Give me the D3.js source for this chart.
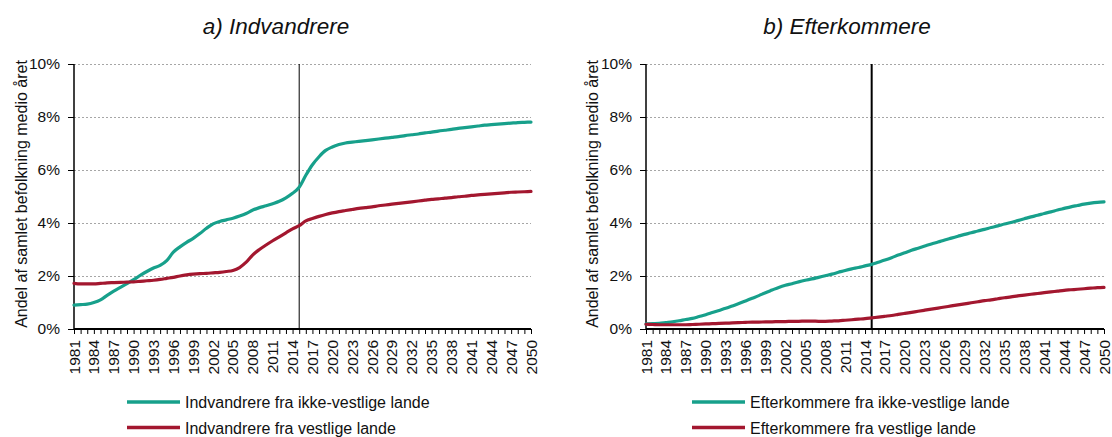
<!DOCTYPE html>
<html>
<head>
<meta charset="utf-8">
<script src="https://cdn.jsdelivr.net/npm/d3@7"></script>
<style>
  html, body { margin: 0; padding: 0; background: #fff; }
  svg { display: block; font-family: "Liberation Sans", Arial, sans-serif; }
</style>
</head>
<body>
<svg id="chart" width="1112" height="437"></svg>
<script>
// ---- DATA ----
const years = d3.range(1981, 2051);
const yTicks = [0, 2, 4, 6, 8, 10];
const panelTitles = ["a) Indvandrere", "b) Efterkommere"];
const yAxisTitle = "Andel af samlet befolkning medio året";
const seriesNamesA = ["Indvandrere fra ikke-vestlige lande", "Indvandrere fra vestlige lande"];
const seriesNamesB = ["Efterkommere fra ikke-vestlige lande", "Efterkommere fra vestlige lande"];
const markerYear = 2015;

const indvIkkeVestlige = [
  0.90,0.92,0.94,1.00,1.10,1.27,1.43,1.57,1.71,1.86,
  2.02,2.17,2.30,2.40,2.58,2.90,3.10,3.27,3.42,3.60,
  3.80,3.97,4.06,4.12,4.18,4.26,4.36,4.49,4.58,4.65,
  4.73,4.82,4.95,5.12,5.35,5.80,6.20,6.50,6.74,6.87,
  6.96,7.02,7.05,7.08,7.11,7.14,7.17,7.20,7.23,7.26,
  7.30,7.33,7.36,7.40,7.43,7.47,7.50,7.53,7.57,7.60,
  7.63,7.66,7.69,7.71,7.73,7.75,7.77,7.79,7.80,7.81
];
const indvVestlige = [
  1.72,1.70,1.70,1.70,1.72,1.74,1.75,1.76,1.77,1.78,
  1.80,1.82,1.84,1.87,1.91,1.95,2.00,2.04,2.07,2.09,
  2.10,2.12,2.14,2.17,2.21,2.32,2.52,2.80,3.00,3.17,
  3.33,3.48,3.63,3.78,3.90,4.08,4.17,4.25,4.32,4.38,
  4.43,4.47,4.51,4.55,4.58,4.61,4.65,4.68,4.71,4.74,
  4.77,4.80,4.83,4.86,4.89,4.91,4.94,4.96,4.99,5.01,
  5.04,5.06,5.08,5.10,5.12,5.14,5.16,5.17,5.18,5.19
];
const eftIkkeVestlige = [
  0.19,0.20,0.21,0.24,0.27,0.31,0.36,0.40,0.47,0.54,
  0.62,0.70,0.78,0.87,0.96,1.06,1.16,1.26,1.37,1.47,
  1.57,1.65,1.71,1.78,1.84,1.89,1.95,2.01,2.07,2.14,
  2.21,2.27,2.32,2.38,2.44,2.52,2.60,2.69,2.79,2.88,
  2.97,3.05,3.13,3.21,3.28,3.36,3.43,3.50,3.57,3.63,
  3.70,3.76,3.83,3.89,3.96,4.02,4.09,4.16,4.23,4.29,
  4.36,4.42,4.49,4.55,4.61,4.66,4.71,4.75,4.78,4.80
];
const eftVestlige = [
  0.18,0.17,0.16,0.16,0.16,0.16,0.16,0.17,0.18,0.19,
  0.20,0.21,0.22,0.23,0.24,0.25,0.26,0.26,0.27,0.27,
  0.28,0.28,0.29,0.29,0.30,0.30,0.29,0.29,0.30,0.31,
  0.33,0.35,0.37,0.39,0.42,0.45,0.48,0.51,0.55,0.59,
  0.63,0.67,0.71,0.75,0.79,0.83,0.87,0.91,0.95,0.99,
  1.03,1.07,1.10,1.14,1.18,1.21,1.25,1.28,1.31,1.34,
  1.37,1.40,1.43,1.46,1.48,1.50,1.52,1.54,1.56,1.57
];

const colors = ["#17a08b", "#a3172f"];

// ---- DRAW ----
const svg = d3.select("#chart");
const plotTop = 64, plotBottom = 329;

const panels = [
  { x0: 74, x1: 531, title: panelTitles[0], titleX: 276, names: seriesNamesA,
    series: [indvIkkeVestlige, indvVestlige], yTitleX: 27, legendX: 127, markerW: 1 },
  { x0: 646, x1: 1104, title: panelTitles[1], titleX: 847, names: seriesNamesB,
    series: [eftIkkeVestlige, eftVestlige], yTitleX: 598, legendX: 692, markerW: 2 }
];

panels.forEach(p => {
  const g = svg.append("g");
  const x = d3.scaleLinear().domain([1981, 2050]).range([p.x0, p.x1]);
  const y = d3.scaleLinear().domain([0, 10]).range([plotBottom, plotTop]);

  // gridlines
  g.append("g").selectAll("line").data(yTicks.filter(t => t > 0)).join("line")
    .attr("x1", p.x0).attr("x2", p.x1)
    .attr("y1", d => y(d) + 0.5).attr("y2", d => y(d) + 0.5)
    .attr("stroke", "#a6a6a6").attr("stroke-width", 1)
    .attr("stroke-dasharray", "2,2");

  // y axis
  const ya = d3.axisLeft(y).tickValues(yTicks).tickSize(6).tickPadding(8)
    .tickFormat(d => d + "%");
  const yg = g.append("g").attr("transform", `translate(${p.x0},0)`).call(ya);
  yg.select(".domain").attr("stroke", "#000").attr("stroke-width", 1.5)
    .attr("d", `M0,${plotBottom}V${plotTop}`);
  yg.selectAll(".tick line").attr("stroke", "#000");
  yg.selectAll("text").attr("font-size", 15.5).attr("fill", "#111")
    .attr("font-family", "'Liberation Sans', Arial, sans-serif");

  // x axis
  const xa = d3.axisBottom(x).tickValues(years).tickSize(5).tickFormat("");
  const xg = g.append("g").attr("transform", `translate(0,${plotBottom})`).call(xa);
  xg.select(".domain").attr("stroke", "#000").attr("stroke-width", 2)
    .attr("d", `M${p.x0},0H${p.x1}`);
  xg.selectAll(".tick line").attr("stroke", "#000");

  // x labels every 3 years
  g.append("g").selectAll("text").data(years.filter(yr => (yr - 1981) % 3 === 0)).join("text")
    .attr("transform", d => `translate(${x(d) + 5.5},${plotBottom + 11}) rotate(-90)`)
    .attr("text-anchor", "end")
    .attr("font-size", 15.5).attr("fill", "#111")
    .text(d => d);

  // y title
  g.append("text")
    .attr("transform", `translate(${p.yTitleX},194) rotate(-90)`)
    .attr("text-anchor", "middle").attr("font-size", 16).attr("fill", "#111")
    .text(yAxisTitle);

  // marker vertical line
  g.append("line")
    .attr("x1", x(markerYear)).attr("x2", x(markerYear))
    .attr("y1", plotTop).attr("y2", plotBottom)
    .attr("stroke", "#000").attr("stroke-width", p.markerW);

  // series lines
  const line = d3.line().x((d, i) => x(years[i])).y(d => y(d)).curve(d3.curveMonotoneX);
  p.series.forEach((s, i) => {
    g.append("path").datum(s)
      .attr("d", line).attr("fill", "none")
      .attr("stroke", colors[i]).attr("stroke-width", 3.2)
      .attr("stroke-linejoin", "round").attr("stroke-linecap", "round");
  });

  // title
  g.append("text").attr("x", p.titleX).attr("y", 33.5)
    .attr("text-anchor", "middle").attr("font-size", 22.5).attr("font-style", "italic")
    .attr("fill", "#111").text(p.title);

  // legend
  p.names.forEach((n, i) => {
    const ly = 402 + i * 25.5;
    g.append("line").attr("x1", p.legendX).attr("x2", p.legendX + 53)
      .attr("y1", ly).attr("y2", ly)
      .attr("stroke", colors[i]).attr("stroke-width", 3.5);
    g.append("text").attr("x", p.legendX + 58).attr("y", ly + 6)
      .attr("font-size", 16).attr("fill", "#111").text(n);
  });
});
</script>
</body>
</html>
